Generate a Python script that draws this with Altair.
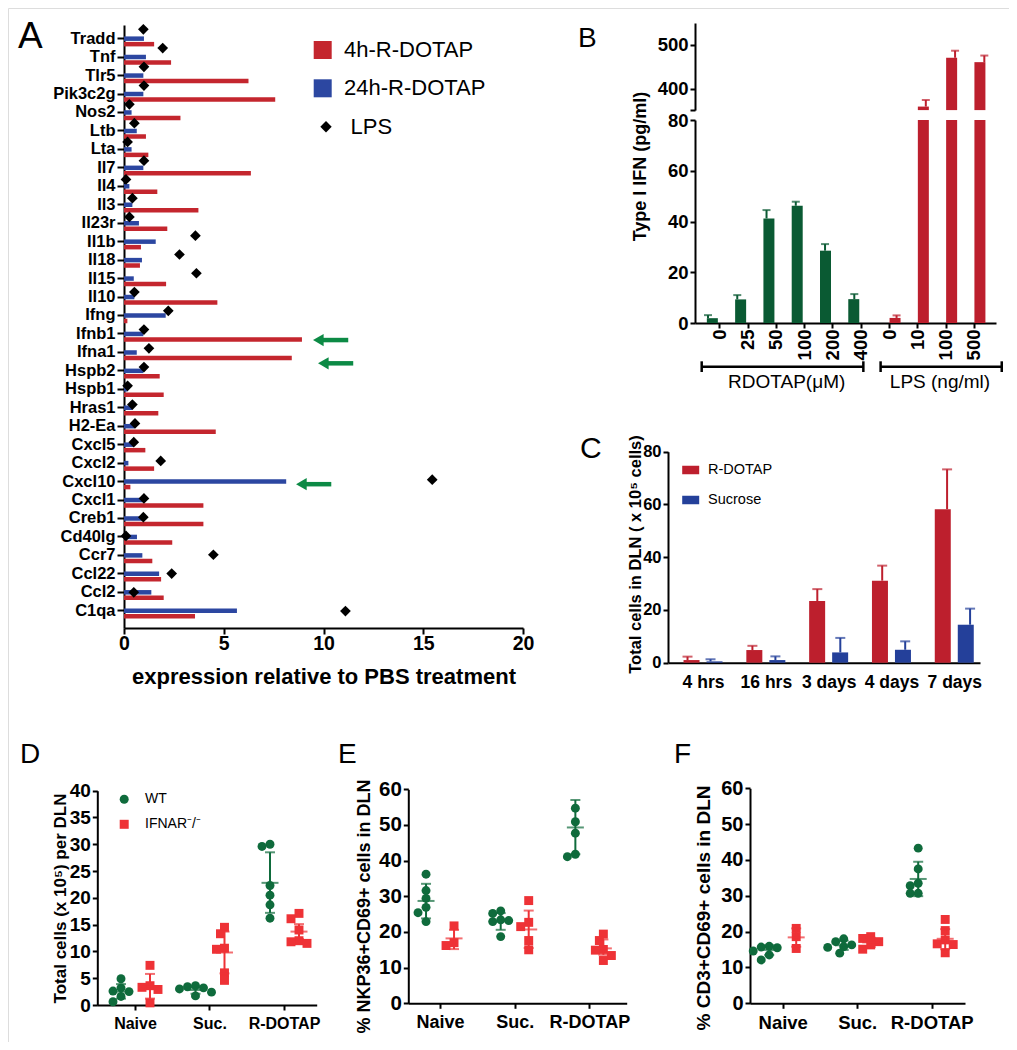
import json
import altair as alt
import pandas as pd

FONT = "Liberation Sans"
W, H = 1001, 1034

# ---------------- data ----------------
# Panel A
genes = ["Tradd", "Tnf", "Tlr5", "Pik3c2g", "Nos2", "Ltb", "Lta", "Il7", "Il4", "Il3",
         "Il23r", "Il1b", "Il18", "Il15", "Il10", "Ifng", "Ifnb1", "Ifna1", "Hspb2", "Hspb1",
         "Hras1", "H2-Ea", "Cxcl5", "Cxcl2", "Cxcl10", "Cxcl1", "Creb1", "Cd40lg", "Ccr7",
         "Ccl22", "Ccl2", "C1qa"]
a_4h = [1.51, 2.36, 6.24, 7.58, 2.83, 1.10, 1.22, 6.36, 1.67, 3.73,
        2.17, 0.85, 0.80, 2.11, 4.68, 0.17, 8.92, 8.41, 1.79, 1.99,
        1.72, 4.60, 1.07, 1.51, 0.32, 3.98, 3.98, 2.42, 1.42, 1.86, 1.99, 3.56]
a_24h = [1.00, 1.10, 0.97, 0.97, 0.38, 0.64, 0.38, 0.97, 0.27, 0.42,
         0.75, 1.59, 0.90, 0.49, 0.52, 2.09, 0.97, 0.64, 0.97, 0.18,
         0.42, 0.52, 0.49, 0.22, 8.13, 0.97, 0.97, 0.65, 0.92, 1.76, 1.37, 5.66]
a_lps = [0.97, 1.94, 1.00, 1.00, 0.27, 0.52, 0.18, 1.00, 0.10, 0.42,
         0.27, 3.58, 2.78, 3.63, 0.52, 2.22, 1.00, 1.25, 1.00, 0.18,
         0.42, 0.55, 0.49, 1.84, 15.45, 1.00, 0.97, 0.10, 4.48, 2.39, 0.49, 11.1]
a_series = ["4h-R-DOTAP", "24h-R-DOTAP", "LPS"]
arrow_genes = ["Ifnb1", "Ifna1", "Cxcl10"]
arrow_tip = [9.48, 9.73, 8.63]
arrow_tail = [11.24, 11.49, 10.39]

# Panel B
b_labels = ["0", "25", "50", "100", "200", "400", "0", "10", "100", "500"]
b_group = ["RDOTAP"] * 6 + ["LPS"] * 4
b_mean = [1.9, 9.3, 41.2, 46.2, 28.5, 9.4, 2.0, 360.0, 471.0, 461.0]
b_top = [3.1, 11.0, 44.5, 47.8, 31.1, 11.4, 3.0, 375.0, 487.0, 476.0]
b_groups = ["RDOTAP", "LPS"]
b_bracket_names = ["RDOTAP(μM)", "LPS (ng/ml)"]

# Panel C
c_times = ["4 hrs", "16 hrs", "3 days", "4 days", "7 days"]
c_series = ["R-DOTAP", "Sucrose"]
c_rdotap_mean = [1.0, 4.8, 23.4, 31.1, 58.2]
c_rdotap_top = [2.3, 6.4, 27.9, 36.8, 73.3]
c_suc_mean = [0.5, 1.0, 3.9, 4.9, 14.4]
c_suc_top = [1.3, 2.4, 9.4, 8.1, 20.5]

# Panels D, E, F
groups = ["Naive", "Suc.", "R-DOTAP"]
genotypes = ["WT", "IFNAR⁻/⁻"]

d_wt = [[4.9, 3.2, 2.6, 2.5, 1.6, 0.6], [3.6, 3.4, 3.2, 3.0, 2.4, 1.7],
        [30.0, 29.6, 22.3, 20.5, 18.7, 16.2]]
d_ko = [[7.4, 3.6, 3.3, 2.9, 0.4], [14.5, 13.3, 10.6, 10.4, 6.0, 4.6],
        [17.1, 16.1, 14.0, 12.0, 11.8, 11.5]]
d_wt_mean = [2.5, 2.8, 22.8]
d_wt_lo = [1.2, 2.1, 17.2]
d_wt_hi = [3.9, 3.4, 28.5]
d_ko_mean = [3.4, 9.8, 13.7]
d_ko_lo = [1.2, 5.9, 12.3]
d_ko_hi = [5.8, 13.7, 15.1]

e_wt = [[36.2, 31.6, 29.4, 26.9, 25.4, 22.9], [25.9, 25.2, 23.4, 23.2, 22.9, 18.7],
        [54.7, 50.9, 47.7, 41.8, 41.1]]
e_ko = [[21.7, 17.0, 16.2], [28.8, 22.7, 21.5, 17.6, 15.0],
        [19.4, 17.6, 15.1, 14.9, 13.4, 12.0]]
e_wt_mean = [28.7, 23.0, 49.3]
e_wt_lo = [23.8, 20.6, 41.8]
e_wt_hi = [33.5, 25.3, 57.0]
e_ko_mean = [18.2, 20.7, 15.4]
e_ko_lo = [15.2, 15.5, 13.6]
e_ko_hi = [20.6, 26.0, 17.9]

f_wt = [[15.9, 15.7, 15.5, 14.6, 13.5, 12.1], [18.0, 17.2, 16.3, 15.8, 15.6, 14.0],
        [43.3, 37.5, 33.5, 32.8, 30.7, 30.7]]
f_ko = [[20.9, 18.6, 15.3], [18.6, 18.1, 17.2, 16.3, 15.1],
        [23.4, 20.3, 17.7, 16.6, 16.4, 14.1]]
f_wt_mean = [14.9, 16.2, 34.7]
f_wt_lo = [13.5, 14.9, 29.9]
f_wt_hi = [16.2, 17.5, 39.5]
f_ko_mean = [18.4, 17.0, 18.0]
f_ko_lo = [15.8, 15.7, 15.1]
f_ko_hi = [20.9, 18.3, 20.7]

# ---------------- styles ----------------
A_RED, A_BLUE = "#c4262e", "#2c47a1"
ARROW_GREEN = "#0c8a45"
B_GREEN, B_RED = "#0a5a33", "#bd1f2d"
C_RED, C_BLUE = "#bd1f2d", "#24409a"
G_GREEN, G_RED = "#0f6b3c", "#ee3236"


def lab_expr(labels):
    return json.dumps(list(labels)) + "[datum.value]"


def ppu_of(dom, rng):
    return abs(rng[1] - rng[0]) / (dom[1] - dom[0])


def scale(dom, rng):
    return alt.Scale(domain=list(dom), range=list(rng), nice=False, zero=False)


def y_axis(x0, values, size, title=None, tsize=16, tx=0.0, ty=0.0, tick=5, pad=2, expr=None):
    kw = dict(orient="left", offset=-x0, values=values, grid=False,
              labelFont=FONT, labelFontSize=size, labelFontWeight="bold", labelColor="black",
              labelPadding=pad, labelOverlap=False, labelFlush=False,
              ticks=True, tickSize=tick, tickWidth=2, tickColor="black",
              domainColor="black", domainWidth=2, title=title)
    if expr is not None:
        kw["labelExpr"] = expr
    if title is not None:
        kw.update(titleFont=FONT, titleFontSize=tsize, titleFontWeight="bold", titleColor="black",
                  titleX=tx, titleY=ty, titleAngle=270, titleAlign="center",
                  titleBaseline="middle")
    return alt.Axis(**kw)


def x_axis(y0, values, size, expr=None, tick=5, pad=2, angle=None, title=None, tsize=16, ty=0.0):
    kw = dict(orient="bottom", offset=y0 - H, values=values, grid=False,
              labelFont=FONT, labelFontSize=size, labelFontWeight="bold", labelColor="black",
              labelPadding=pad, labelOverlap=False, labelFlush=False,
              tickSize=tick, tickWidth=2, tickColor="black", ticks=tick > 0,
              domainColor="black", domainWidth=2, title=title)
    if expr is not None:
        kw["labelExpr"] = expr
    if angle is not None:
        kw.update(labelAngle=angle, labelAlign="right", labelBaseline="middle")
    if title is not None:
        kw.update(titleFont=FONT, titleFontSize=tsize, titleFontWeight="bold", titleColor="black",
                  titleY=ty, titleBaseline="alphabetic")
    return alt.Axis(**kw)


def legend_box(x, y, sym, size, fsize, loff, fill=None):
    kw = dict(orient="none", legendX=x, legendY=y, title=None, symbolType=sym, symbolSize=size,
              symbolStrokeWidth=0, symbolOpacity=1, labelFont=FONT, labelFontSize=fsize,
              labelColor="black", labelFontWeight="normal", labelOffset=loff, padding=0,
              direction="vertical")
    if fill is not None:
        kw["symbolFillColor"] = fill
    return alt.Legend(**kw)


layers = []

# ---------------- Panel A ----------------
A_XDOM, A_XRNG = (0, 20), (116, 515)
A_YDOM, A_YRNG = (-0.442, 31.69), (17, 620)
xsA, ysA = scale(A_XDOM, A_XRNG), scale(A_YDOM, A_YRNG)
A_band = ppu_of(A_YDOM, A_YRNG)
A_ppu = ppu_of(A_XDOM, A_XRNG)

dfA = pd.DataFrame({"idx": list(range(len(genes))), "v4": a_4h, "v24": a_24h, "lps": a_lps})
dfA["s4"], dfA["s24"], dfA["slps"] = a_series[0], a_series[1], a_series[2]

axA_x = x_axis(620, [0, 5, 10, 15, 20], 19.5, tick=6, pad=0,
               title="expression relative to PBS treatment", tsize=22, ty=55)
axA_y = y_axis(116, list(range(len(genes))), 16.5, tick=7, pad=2, expr=lab_expr(genes))

layers.append(alt.Chart(dfA).mark_bar(orient="horizontal", size=4.5, yOffset=0.5).encode(
    x=alt.X("v24:Q", scale=xsA, stack=None, axis=axA_x), x2=alt.datum(0),
    y=alt.Y("idx:Q", scale=ysA, axis=axA_y),
    color=alt.Color("s24:N", scale=alt.Scale(domain=[a_series[1]], range=[A_BLUE]),
                    legend=legend_box(303.7, 69.3, "square", 324, 22, 10.3))))
layers.append(alt.Chart(dfA).mark_bar(orient="horizontal", size=4.5, yOffset=6).encode(
    x=alt.X("v4:Q", scale=xsA, stack=None, axis=None), x2=alt.datum(0),
    y=alt.Y("idx:Q", scale=ysA, axis=None),
    color=alt.Color("s4:N", scale=alt.Scale(domain=[a_series[0]], range=[A_RED]),
                    legend=legend_box(303.7, 31, "square", 324, 22, 10.3))))
layers.append(alt.Chart(dfA).mark_point(filled=True, size=115, color="black", opacity=1,
                                        strokeWidth=0, yOffset=-4).encode(
    x=alt.X("lps:Q", scale=xsA, axis=None),
    y=alt.Y("idx:Q", scale=ysA, axis=None),
    shape=alt.Shape("slps:N", scale=alt.Scale(domain=[a_series[2]], range=["diamond"]),
                    legend=legend_box(307, 107.7, "diamond", 130, 22, 13.6, fill="black"))))

ARROW_DY_PX = [6.5, 11.0, 0.5]
HEAD_HALF_PX = 5.2
dfArr = pd.DataFrame({"tip": arrow_tip, "tail": arrow_tail})
dfArr["ay"] = [genes.index(g) + dy / A_band for g, dy in zip(arrow_genes, ARROW_DY_PX)]
dfArr["hx"] = [t + HEAD_HALF_PX / A_ppu for t in arrow_tip]
layers.append(alt.Chart(dfArr).mark_rule(color=ARROW_GREEN, strokeWidth=4.5).encode(
    x=alt.X("hx:Q", scale=xsA, axis=None), x2="tail:Q",
    y=alt.Y("ay:Q", scale=ysA, axis=None)))
layers.append(alt.Chart(dfArr).mark_point(shape="triangle-left", filled=True, size=150,
                                          color=ARROW_GREEN, opacity=1, strokeWidth=0).encode(
    x=alt.X("hx:Q", scale=xsA, axis=None), y=alt.Y("ay:Q", scale=ysA, axis=None)))

# ---------------- Panel B ----------------
B_XDOM, B_XRNG = (-0.684, 9.604), (687, 988)
B_LDOM, B_LRNG = (0, 80), (315, 112)
B_UDOM, B_URNG = (352, 550), (102.1, 15)
xsB, ysBl, ysBu = scale(B_XDOM, B_XRNG), scale(B_LDOM, B_LRNG), scale(B_UDOM, B_URNG)
B_OFF = {"RDOTAP": -7, "LPS": 6}
B_COL = {"RDOTAP": B_GREEN, "LPS": B_RED}

dfB = pd.DataFrame({"idx": list(range(len(b_labels))), "lab": b_labels, "grp": b_group,
                    "mean": b_mean, "top": b_top})
axB_x = x_axis(315, list(range(len(b_labels))), 18.5, expr=lab_expr(b_labels), tick=5, pad=1,
               angle=270)
axB_yl = y_axis(687, [0, 20, 40, 60, 80], 18.5, title="Type I IFN (pg/ml)", tsize=18,
                tx=-54.5, ty=158, tick=5, pad=2)
axB_yu = y_axis(687, [352, 400, 500], 18.5, tick=5, pad=2,
                expr="datum.value < 390 ? '' : datum.label")

for k, g in enumerate(b_groups):
    d = dfB[dfB["grp"] == g]
    layers.append(alt.Chart(d).transform_calculate(ylow="min(datum.mean, 80)").mark_bar(
        size=11, xOffset=B_OFF[g], color=B_COL[g]).encode(
        x=alt.X("idx:Q", scale=xsB, axis=axB_x if k == 0 else None),
        y=alt.Y("ylow:Q", scale=ysBl, axis=axB_yl if k == 0 else None), y2=alt.datum(0)))
    dl = d[d["top"] <= 80]
    layers.append(alt.Chart(dl).mark_rule(color=B_COL[g], strokeWidth=2, xOffset=B_OFF[g]).encode(
        x=alt.X("idx:Q", scale=xsB, axis=None), y=alt.Y("mean:Q", scale=ysBl, axis=None),
        y2="top:Q"))
    layers.append(alt.Chart(dl).mark_tick(orient="horizontal", color=B_COL[g], size=8,
                                          thickness=2, xOffset=B_OFF[g]).encode(
        x=alt.X("idx:Q", scale=xsB, axis=None), y=alt.Y("top:Q", scale=ysBl, axis=None)))

du = dfB[dfB["mean"] > B_UDOM[0]]
layers.append(alt.Chart(du).mark_bar(size=11, xOffset=B_OFF["LPS"], color=B_RED).encode(
    x=alt.X("idx:Q", scale=xsB, axis=None),
    y=alt.Y("mean:Q", scale=ysBu, axis=axB_yu), y2=alt.datum(B_UDOM[0])))
dut = dfB[dfB["top"] > 80]
layers.append(alt.Chart(dut).mark_rule(color=B_RED, strokeWidth=2, xOffset=B_OFF["LPS"]).encode(
    x=alt.X("idx:Q", scale=xsB, axis=None), y=alt.Y("mean:Q", scale=ysBu, axis=None),
    y2="top:Q"))
layers.append(alt.Chart(dut).mark_tick(orient="horizontal", color=B_RED, size=8, thickness=2,
                                       xOffset=B_OFF["LPS"]).encode(
    x=alt.X("idx:Q", scale=xsB, axis=None), y=alt.Y("top:Q", scale=ysBu, axis=None)))

# bracket annotations under the B axis (layout constants in axis units)
BR_X0, BR_X1, BR_XT = [-0.455, 5.66], [5.07, 9.80], [2.45, 7.69]
dfBr = pd.DataFrame({"name": b_bracket_names, "x0": BR_X0, "x1": BR_X1, "xt": BR_XT})
layers.append(alt.Chart(dfBr).mark_rule(color="black", strokeWidth=2.5).encode(
    x=alt.X("x0:Q", scale=xsB, axis=None), x2="x1:Q", y=alt.value(358.7)))
layers.append(alt.Chart(dfBr).transform_fold(["x0", "x1"]).mark_rule(
    color="black", strokeWidth=2.5).encode(
    x=alt.X("value:Q", scale=xsB, axis=None), y=alt.value(353.3), y2=alt.value(364.0)))
layers.append(alt.Chart(dfBr).mark_text(font=FONT, fontSize=19, color="black",
                                        baseline="middle", align="center").encode(
    x=alt.X("xt:Q", scale=xsB, axis=None), y=alt.value(374), text="name:N"))

# ---------------- Panel C ----------------
C_XDOM, C_XRNG = (-0.478, 4.330), (660, 972)
C_YDOM, C_YRNG = (0, 80), (654.7, 443.7)
xsC, ysC = scale(C_XDOM, C_XRNG), scale(C_YDOM, C_YRNG)
axC_x = x_axis(654.7, list(range(len(c_times))), 17.5, expr=lab_expr(c_times), tick=0, pad=11)
axC_y = y_axis(660, [0, 20, 40, 60, 80], 16.5, title="Total cells in DLN ( x 10⁵ cells)",
               tsize=16.5, tx=-33, ty=546, tick=5, pad=2)
C_OFF = [-11.5, 11.5]
C_COL = [C_RED, C_BLUE]
C_LEGY = [453.5, 483.5]
RECT = "M-1,-0.5L1,-0.5L1,0.5L-1,0.5Z"
for k, (name, means, tops) in enumerate([(c_series[0], c_rdotap_mean, c_rdotap_top),
                                         (c_series[1], c_suc_mean, c_suc_top)]):
    d = pd.DataFrame({"idx": list(range(len(c_times))), "series": name,
                      "mean": means, "top": tops})
    layers.append(alt.Chart(d).mark_bar(size=16, xOffset=C_OFF[k]).encode(
        x=alt.X("idx:Q", scale=xsC, axis=axC_x if k == 0 else None),
        y=alt.Y("mean:Q", scale=ysC, axis=axC_y if k == 0 else None), y2=alt.datum(0),
        color=alt.Color("series:N", scale=alt.Scale(domain=[name], range=[C_COL[k]]),
                        legend=legend_box(674.2, C_LEGY[k], RECT, 289, 14.5, 8.8))))
    layers.append(alt.Chart(d).mark_rule(color=C_COL[k], strokeWidth=2, xOffset=C_OFF[k]).encode(
        x=alt.X("idx:Q", scale=xsC, axis=None), y=alt.Y("mean:Q", scale=ysC, axis=None),
        y2="top:Q"))
    layers.append(alt.Chart(d).mark_tick(orient="horizontal", color=C_COL[k], size=10,
                                         thickness=2, xOffset=C_OFF[k]).encode(
        x=alt.X("idx:Q", scale=xsC, axis=None), y=alt.Y("top:Q", scale=ysC, axis=None)))


# ---------------- Panels D, E, F ----------------
def swarm(vals, ppu, step=4.0, dmin=7.5):
    order = sorted(range(len(vals)), key=lambda i: -vals[i])
    cands = [0.0]
    for k in range(1, 8):
        cands += [-k * step, k * step]
    placed, offs = [], [0.0] * len(vals)
    for i in order:
        y = vals[i] * ppu
        chosen = cands[-1]
        for c in cands:
            if all((c - px) ** 2 + (y - py) ** 2 >= dmin ** 2 for px, py in placed):
                chosen = c
                break
        offs[i] = chosen
        placed.append((chosen, y))
    return offs


def scatter_panel(P):
    xs, ys = scale(P["xdom"], P["xrng"]), scale(P["ydom"], P["yrng"])
    sp = ppu_of(P["xdom"], P["xrng"])
    py = ppu_of(P["ydom"], P["yrng"])
    colors, shapes = [G_GREEN, G_RED], ["circle", "square"]
    out = []
    for k in range(2):
        rows = []
        for gi in range(len(groups)):
            pts = P["pts"][k][gi]
            for v, j in zip(pts, swarm(pts, py)):
                rows.append({"pos": gi + (P["off"][k] + j) / sp, "val": v, "geno": genotypes[k]})
        dp = pd.DataFrame(rows)
        leg = None
        if P.get("legy") is not None:
            leg = legend_box(P["legx"], P["legy"][k], shapes[k], 81, 14, 13.8)
        out.append(alt.Chart(dp).mark_point(filled=True, size=80, opacity=1, strokeWidth=0).encode(
            x=alt.X("pos:Q", scale=xs, axis=P["xaxis"] if k == 0 else None),
            y=alt.Y("val:Q", scale=ys, axis=P["yaxis"] if k == 0 else None),
            color=alt.Color("geno:N", scale=alt.Scale(domain=[genotypes[k]], range=[colors[k]]),
                            legend=leg),
            shape=alt.Shape("geno:N", scale=alt.Scale(domain=[genotypes[k]], range=[shapes[k]]),
                            legend=leg)))
        mean, lo, hi = P["stats"][k]
        ds = pd.DataFrame({"pos": [gi + P["off"][k] / sp for gi in range(len(groups))],
                           "mean": mean, "lo": lo, "hi": hi})
        out.append(alt.Chart(ds).mark_rule(color=colors[k], strokeWidth=2).encode(
            x=alt.X("pos:Q", scale=xs, axis=None), y=alt.Y("lo:Q", scale=ys, axis=None),
            y2="hi:Q"))
        out.append(alt.Chart(ds).mark_tick(orient="horizontal", color=colors[k], size=17,
                                           thickness=2).encode(
            x=alt.X("pos:Q", scale=xs, axis=None), y=alt.Y("mean:Q", scale=ys, axis=None)))
        out.append(alt.Chart(ds).transform_fold(["lo", "hi"]).mark_tick(
            orient="horizontal", color=colors[k], size=10, thickness=2).encode(
            x=alt.X("pos:Q", scale=xs, axis=None), y=alt.Y("value:Q", scale=ys, axis=None)))
    return out


PD = dict(xdom=(-0.506, 2.439), xrng=(89.3, 308.7), ydom=(0, 40), yrng=(997, 782.7),
          off=(-14, 15), pts=(d_wt, d_ko),
          stats=((d_wt_mean, d_wt_lo, d_wt_hi), (d_ko_mean, d_ko_lo, d_ko_hi)),
          xaxis=x_axis(997, [0, 1, 2], 16, expr=lab_expr(groups), tick=5, pad=5.5),
          yaxis=y_axis(89.3, list(range(0, 41, 5)), 19, title="Total cells (x 10⁵) per DLN",
                       tsize=17, tx=-36.6, ty=890, tick=5, pad=2),
          legx=109.2, legy=(784.3, 809.3))
PE = dict(xdom=(-0.425, 2.50), xrng=(400.3, 618.7), ydom=(0, 60), yrng=(995.3, 781.3),
          off=(-14, 14), pts=(e_wt, e_ko),
          stats=((e_wt_mean, e_wt_lo, e_wt_hi), (e_ko_mean, e_ko_lo, e_ko_hi)),
          xaxis=x_axis(995.3, [0, 1, 2], 18, expr=lab_expr(groups), tick=5, pad=5.4),
          yaxis=y_axis(400.3, list(range(0, 61, 10)), 20.5, title="% NKP36+CD69+ cells in DLN",
                       tsize=18, tx=-43.8, ty=898, tick=5, pad=2))
PF = dict(xdom=(-0.439, 2.447), xrng=(742, 957), ydom=(0, 60), yrng=(995.3, 780.3),
          off=(-13.5, 13.5), pts=(f_wt, f_ko),
          stats=((f_wt_mean, f_wt_lo, f_wt_hi), (f_ko_mean, f_ko_lo, f_ko_hi)),
          xaxis=x_axis(995.3, [0, 1, 2], 18.5, expr=lab_expr(groups), tick=5, pad=5.4),
          yaxis=y_axis(742, list(range(0, 61, 10)), 20, title="% CD3+CD69+ cells in DLN",
                       tsize=19, tx=-46.5, ty=899.5, tick=5, pad=2))
for P in (PD, PE, PF):
    layers.extend(scatter_panel(P))

# ---------------- panel letters ----------------
for letter, lx, ly, fs in [("A", 10, 40, 37), ("B", 570, 39, 28), ("C", 572, 450, 30),
                           ("D", 12, 755, 28), ("E", 330, 755, 28), ("F", 666, 755, 28)]:
    layers.append(alt.Chart(pd.DataFrame({"t": [letter]})).mark_text(
        font=FONT, fontSize=fs, color="black", align="left", baseline="alphabetic").encode(
        x=alt.value(lx), y=alt.value(ly), text="t:N"))

chart = alt.layer(*layers).resolve_scale(
    x="independent", y="independent", color="independent", shape="independent"
).properties(
    width=W, height=H, autosize=alt.AutoSizeParams(type="none"), padding=0
).configure_view(stroke=None).configure(background="white")

chart.save("out.html", embed_options={"renderer": "svg", "actions": False})
